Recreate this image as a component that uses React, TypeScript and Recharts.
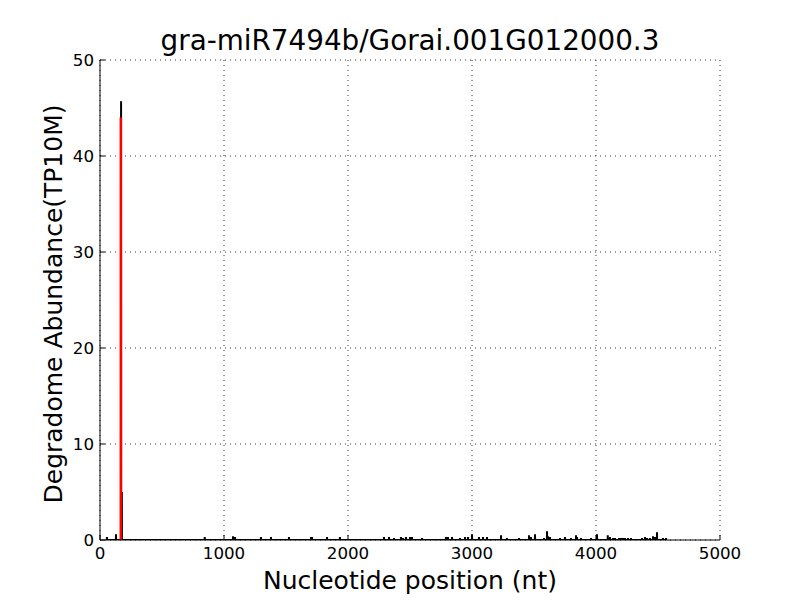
import { LineChart, Line, XAxis, YAxis, CartesianGrid } from "recharts";

const title = "gra-miR7494b/Gorai.001G012000.3";
const xLabel = "Nucleotide position (nt)";
const yLabel = "Degradome Abundance(TP10M)";

const xTicks = [0, 1000, 2000, 3000, 4000, 5000];
const yTicks = [0, 10, 20, 30, 40, 50];

// degradome read positions (nt) and abundance (TP10M)
const positions = [
  56, 129, 170, 176, 845, 1073, 1089, 1298, 1379, 1524, 1702, 1710, 1831, 1935,
  2290, 2331, 2371, 2427, 2444, 2468, 2500, 2516, 2597, 2790, 2806, 2839, 2903,
  2944, 2968, 3000, 3056, 3089, 3121, 3234, 3282, 3379, 3460, 3476, 3508, 3581,
  3605, 3613, 3629, 3710, 3750, 3798, 3839, 3847, 3879, 3960, 4008, 4095, 4113,
  4137, 4153, 4185, 4202, 4218, 4234, 4258, 4282, 4371, 4395, 4411, 4435, 4460,
  4476, 4492, 4540, 4565,
];
const abundance = [
  0.3, 0.6, 45.7, 5.0, 0.3, 0.4, 0.3, 0.3, 0.3, 0.3, 0.3, 0.3, 0.3, 0.3,
  0.3, 0.3, 0.2, 0.3, 0.2, 0.3, 0.3, 0.3, 0.2, 0.3, 0.3, 0.3, 0.2,
  0.3, 0.3, 0.6, 0.3, 0.3, 0.3, 0.5, 0.2, 0.2, 0.5, 0.3, 0.6, 0.2,
  0.9, 0.4, 0.3, 0.2, 0.3, 0.2, 0.5, 0.3, 0.2, 0.2, 0.6, 0.5, 0.3,
  0.2, 0.2, 0.2, 0.2, 0.2, 0.2, 0.2, 0.2, 0.2, 0.3, 0.2, 0.2, 0.4,
  0.3, 0.8, 0.2, 0.2,
];

// predicted cleavage site
const sitePos = [168, 168];
const siteVal = [0, 44];

const readData = positions.flatMap((p, i) => [
  { x: p - 1, y: 0 },
  { x: p, y: abundance[i] },
  { x: p + 1, y: 0 },
]);
const siteData = sitePos.map((p, i) => ({ x: p, y: siteVal[i] }));

const font = "'DejaVu Sans', sans-serif";
const tickStyle = { fontSize: 16.7, fill: "#000", fontFamily: font };

export default function App() {
  return (
    <div style={{ position: "absolute", left: 0, top: 0, width: 800, height: 600, background: "#fff" }}>
      <LineChart width={800} height={600} margin={{ top: 60, right: 80, bottom: 0, left: 0 }}>
        <CartesianGrid stroke="#000" strokeWidth={0.8} strokeDasharray="1 4" />
        <XAxis
          dataKey="x"
          type="number"
          domain={[0, 5000]}
          ticks={xTicks}
          height={60}
          allowDataOverflow
          stroke="#000"
          tick={tickStyle}
          tickSize={-5}
          tickMargin={12}
        />
        <XAxis
          xAxisId="top"
          orientation="top"
          dataKey="x"
          type="number"
          domain={[0, 5000]}
          ticks={xTicks}
          height={0}
          stroke="#000"
          tick={false}
          tickSize={-5}
        />
        <YAxis
          type="number"
          domain={[0, 50]}
          ticks={yTicks}
          width={100}
          allowDataOverflow
          stroke="#000"
          tick={tickStyle}
          tickSize={-5}
          tickMargin={11}
        />
        <YAxis
          yAxisId="right"
          orientation="right"
          type="number"
          domain={[0, 50]}
          ticks={yTicks}
          width={0}
          stroke="#000"
          tick={false}
          tickSize={-5}
        />
        <Line data={readData} dataKey="y" type="linear" stroke="#000" strokeWidth={2} dot={false} isAnimationActive={false} />
        <Line data={siteData} dataKey="y" type="linear" stroke="#ff0000" strokeWidth={2.5} dot={false} isAnimationActive={false} />
      </LineChart>
      <svg width={800} height={600} style={{ position: "absolute", left: 0, top: 0, pointerEvents: "none" }}>
        <text x={410} y={50} textAnchor="middle" fontSize={27.8} fontFamily={font} fill="#000">
          {title}
        </text>
        <text x={410} y={589} textAnchor="middle" fontSize={25} fontFamily={font} fill="#000">
          {xLabel}
        </text>
        <text x={62} y={304} textAnchor="middle" fontSize={25} fontFamily={font} fill="#000" transform="rotate(-90 62 304)">
          {yLabel}
        </text>
      </svg>
    </div>
  );
}
